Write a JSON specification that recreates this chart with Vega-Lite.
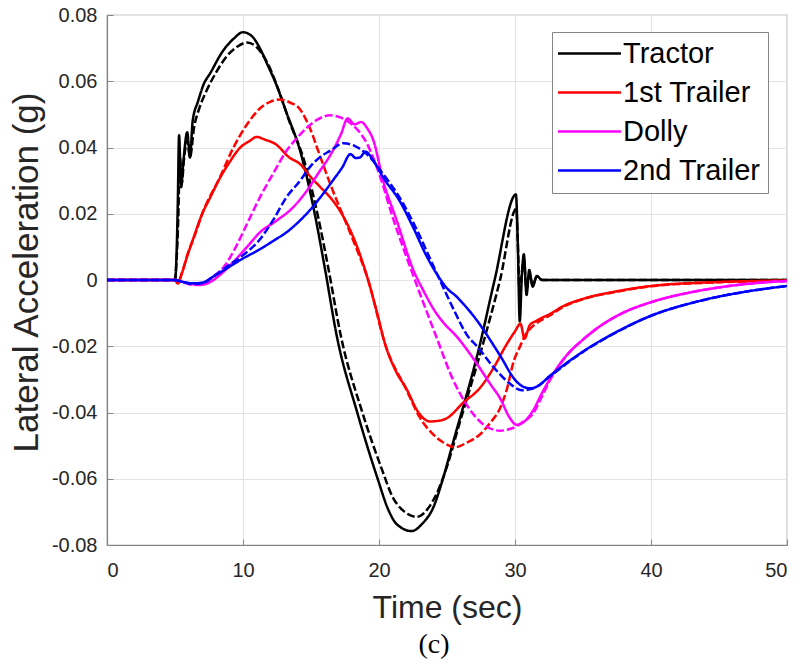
{
"$schema": "https://vega.github.io/schema/vega-lite/v6.json",
"width": 680,
"height": 530,
"autosize": {"type": "none"},
"padding": {"left": 107, "top": 15, "right": 19, "bottom": 122},
"background": "white",
"config": {
 "view": {"stroke": "#858585", "strokeWidth": 1.2},
 "axis": {"domainColor": "#858585", "domainWidth": 1.2, "tickColor": "#858585", "tickSize": -6, "gridColor": "#e3e3e3", "gridWidth": 1, "labelFont": "Liberation Sans", "labelFontSize": 20, "labelColor": "#262626", "titleFont": "Liberation Sans", "titleFontWeight": "normal", "titleColor": "#262626"}
},
"title": {"text": "(c)", "orient": "bottom", "anchor": "middle", "frame": "group", "font": "Liberation Serif", "fontSize": 28, "fontWeight": "normal", "color": "#000000", "offset": 8, "baseline": "top", "dx": -13},
"datasets": {"d": [
{"series":"Tractor","style":"solid","time":0,"acc":0},
{"series":"Tractor","style":"solid","time":5,"acc":0},
{"series":"Tractor","style":"solid","time":5.1,"acc":0.006},
{"series":"Tractor","style":"solid","time":5.2,"acc":0.022},
{"series":"Tractor","style":"solid","time":5.3,"acc":0.0437},
{"series":"Tractor","style":"solid","time":5.45,"acc":0.028},
{"series":"Tractor","style":"solid","time":5.6,"acc":0.035},
{"series":"Tractor","style":"solid","time":5.9,"acc":0.0446},
{"series":"Tractor","style":"solid","time":6.1,"acc":0.037},
{"series":"Tractor","style":"solid","time":6.3,"acc":0.048},
{"series":"Tractor","style":"solid","time":6.7,"acc":0.054},
{"series":"Tractor","style":"solid","time":7.1,"acc":0.059},
{"series":"Tractor","style":"solid","time":7.6,"acc":0.0625},
{"series":"Tractor","style":"solid","time":8.5,"acc":0.069},
{"series":"Tractor","style":"solid","time":9.3,"acc":0.0728},
{"series":"Tractor","style":"solid","time":10,"acc":0.0748},
{"series":"Tractor","style":"solid","time":10.6,"acc":0.0738},
{"series":"Tractor","style":"solid","time":11.3,"acc":0.0695},
{"series":"Tractor","style":"solid","time":11.8,"acc":0.065},
{"series":"Tractor","style":"solid","time":12.4,"acc":0.0595},
{"series":"Tractor","style":"solid","time":13.2,"acc":0.0505},
{"series":"Tractor","style":"solid","time":14.2,"acc":0.039},
{"series":"Tractor","style":"solid","time":15.2,"acc":0.0215},
{"series":"Tractor","style":"solid","time":16.0,"acc":0.004},
{"series":"Tractor","style":"solid","time":16.9,"acc":-0.017},
{"series":"Tractor","style":"solid","time":18.4,"acc":-0.04},
{"series":"Tractor","style":"solid","time":19.9,"acc":-0.06},
{"series":"Tractor","style":"solid","time":20.7,"acc":-0.0695},
{"series":"Tractor","style":"solid","time":21.3,"acc":-0.0737},
{"series":"Tractor","style":"solid","time":22.4,"acc":-0.0758},
{"series":"Tractor","style":"solid","time":23.2,"acc":-0.0735},
{"series":"Tractor","style":"solid","time":24,"acc":-0.0686},
{"series":"Tractor","style":"solid","time":24.7,"acc":-0.06},
{"series":"Tractor","style":"solid","time":25.4,"acc":-0.0497},
{"series":"Tractor","style":"solid","time":27.4,"acc":-0.0198},
{"series":"Tractor","style":"solid","time":28.5,"acc":0},
{"series":"Tractor","style":"solid","time":30.07,"acc":0.0258},
{"series":"Tractor","style":"solid","time":30.2,"acc":0.012},
{"series":"Tractor","style":"solid","time":30.35,"acc":-0.0125},
{"series":"Tractor","style":"solid","time":30.5,"acc":0.001},
{"series":"Tractor","style":"solid","time":30.65,"acc":0.0078},
{"series":"Tractor","style":"solid","time":30.85,"acc":-0.0045},
{"series":"Tractor","style":"solid","time":31.05,"acc":0.003},
{"series":"Tractor","style":"solid","time":31.3,"acc":-0.002},
{"series":"Tractor","style":"solid","time":31.6,"acc":0.0012},
{"series":"Tractor","style":"solid","time":32,"acc":0},
{"series":"Tractor","style":"solid","time":50,"acc":0},
{"series":"Tractor","style":"dashed","time":0,"acc":0},
{"series":"Tractor","style":"dashed","time":5,"acc":0},
{"series":"Tractor","style":"dashed","time":5.1,"acc":0.005},
{"series":"Tractor","style":"dashed","time":5.25,"acc":0.02},
{"series":"Tractor","style":"dashed","time":5.35,"acc":0.038},
{"series":"Tractor","style":"dashed","time":5.5,"acc":0.029},
{"series":"Tractor","style":"dashed","time":5.65,"acc":0.036},
{"series":"Tractor","style":"dashed","time":5.9,"acc":0.042},
{"series":"Tractor","style":"dashed","time":6.1,"acc":0.037},
{"series":"Tractor","style":"dashed","time":6.4,"acc":0.046},
{"series":"Tractor","style":"dashed","time":6.8,"acc":0.052},
{"series":"Tractor","style":"dashed","time":7.3,"acc":0.057},
{"series":"Tractor","style":"dashed","time":8.0,"acc":0.0625},
{"series":"Tractor","style":"dashed","time":8.8,"acc":0.0675},
{"series":"Tractor","style":"dashed","time":9.6,"acc":0.0705},
{"series":"Tractor","style":"dashed","time":10.3,"acc":0.0717},
{"series":"Tractor","style":"dashed","time":11.0,"acc":0.0703},
{"series":"Tractor","style":"dashed","time":11.8,"acc":0.0655},
{"series":"Tractor","style":"dashed","time":12.6,"acc":0.0575},
{"series":"Tractor","style":"dashed","time":13.4,"acc":0.048},
{"series":"Tractor","style":"dashed","time":14.5,"acc":0.036},
{"series":"Tractor","style":"dashed","time":15.5,"acc":0.0195},
{"series":"Tractor","style":"dashed","time":16.3,"acc":0.003},
{"series":"Tractor","style":"dashed","time":17.2,"acc":-0.017},
{"series":"Tractor","style":"dashed","time":18.7,"acc":-0.039},
{"series":"Tractor","style":"dashed","time":20.2,"acc":-0.057},
{"series":"Tractor","style":"dashed","time":21.0,"acc":-0.0655},
{"series":"Tractor","style":"dashed","time":21.8,"acc":-0.0697},
{"series":"Tractor","style":"dashed","time":22.8,"acc":-0.0715},
{"series":"Tractor","style":"dashed","time":23.6,"acc":-0.069},
{"series":"Tractor","style":"dashed","time":24.4,"acc":-0.063},
{"series":"Tractor","style":"dashed","time":25.1,"acc":-0.055},
{"series":"Tractor","style":"dashed","time":25.8,"acc":-0.045},
{"series":"Tractor","style":"dashed","time":27.7,"acc":-0.0185},
{"series":"Tractor","style":"dashed","time":28.9,"acc":0},
{"series":"Tractor","style":"dashed","time":30.1,"acc":0.0215},
{"series":"Tractor","style":"dashed","time":30.2,"acc":0.012},
{"series":"Tractor","style":"dashed","time":30.35,"acc":-0.005},
{"series":"Tractor","style":"dashed","time":30.5,"acc":0.002},
{"series":"Tractor","style":"dashed","time":30.65,"acc":0.0065},
{"series":"Tractor","style":"dashed","time":30.85,"acc":-0.003},
{"series":"Tractor","style":"dashed","time":31.05,"acc":0.002},
{"series":"Tractor","style":"dashed","time":31.3,"acc":-0.0015},
{"series":"Tractor","style":"dashed","time":31.6,"acc":0.001},
{"series":"Tractor","style":"dashed","time":32,"acc":0},
{"series":"Tractor","style":"dashed","time":50,"acc":0},
{"series":"1st Trailer","style":"solid","time":0,"acc":0},
{"series":"1st Trailer","style":"solid","time":5,"acc":0},
{"series":"1st Trailer","style":"solid","time":5.2,"acc":-0.001},
{"series":"1st Trailer","style":"solid","time":5.5,"acc":0.002},
{"series":"1st Trailer","style":"solid","time":5.9,"acc":0.0072},
{"series":"1st Trailer","style":"solid","time":6.3,"acc":0.012},
{"series":"1st Trailer","style":"solid","time":7.0,"acc":0.02},
{"series":"1st Trailer","style":"solid","time":7.6,"acc":0.025},
{"series":"1st Trailer","style":"solid","time":8.2,"acc":0.03},
{"series":"1st Trailer","style":"solid","time":9.0,"acc":0.0355},
{"series":"1st Trailer","style":"solid","time":9.8,"acc":0.04},
{"series":"1st Trailer","style":"solid","time":10.5,"acc":0.042},
{"series":"1st Trailer","style":"solid","time":11.0,"acc":0.0432},
{"series":"1st Trailer","style":"solid","time":11.6,"acc":0.0424},
{"series":"1st Trailer","style":"solid","time":12.4,"acc":0.041},
{"series":"1st Trailer","style":"solid","time":13.4,"acc":0.037},
{"series":"1st Trailer","style":"solid","time":14.2,"acc":0.035},
{"series":"1st Trailer","style":"solid","time":15.0,"acc":0.031},
{"series":"1st Trailer","style":"solid","time":15.7,"acc":0.028},
{"series":"1st Trailer","style":"solid","time":16.6,"acc":0.024},
{"series":"1st Trailer","style":"solid","time":17.4,"acc":0.019},
{"series":"1st Trailer","style":"solid","time":18.3,"acc":0.011},
{"series":"1st Trailer","style":"solid","time":19.2,"acc":0},
{"series":"1st Trailer","style":"solid","time":19.8,"acc":-0.009},
{"series":"1st Trailer","style":"solid","time":20.5,"acc":-0.02},
{"series":"1st Trailer","style":"solid","time":21.3,"acc":-0.028},
{"series":"1st Trailer","style":"solid","time":22.0,"acc":-0.0327},
{"series":"1st Trailer","style":"solid","time":22.9,"acc":-0.04},
{"series":"1st Trailer","style":"solid","time":23.75,"acc":-0.0427},
{"series":"1st Trailer","style":"solid","time":24.4,"acc":-0.0425},
{"series":"1st Trailer","style":"solid","time":25.0,"acc":-0.0417},
{"series":"1st Trailer","style":"solid","time":26.2,"acc":-0.037},
{"series":"1st Trailer","style":"solid","time":27.4,"acc":-0.0327},
{"series":"1st Trailer","style":"solid","time":28.5,"acc":-0.026},
{"series":"1st Trailer","style":"solid","time":29.3,"acc":-0.02},
{"series":"1st Trailer","style":"solid","time":30.0,"acc":-0.0155},
{"series":"1st Trailer","style":"solid","time":30.4,"acc":-0.0132},
{"series":"1st Trailer","style":"solid","time":30.7,"acc":-0.0177},
{"series":"1st Trailer","style":"solid","time":31.1,"acc":-0.0135},
{"series":"1st Trailer","style":"solid","time":31.5,"acc":-0.0125},
{"series":"1st Trailer","style":"solid","time":31.8,"acc":-0.0118},
{"series":"1st Trailer","style":"solid","time":32.6,"acc":-0.0102},
{"series":"1st Trailer","style":"solid","time":33.5,"acc":-0.008},
{"series":"1st Trailer","style":"solid","time":35,"acc":-0.0057},
{"series":"1st Trailer","style":"solid","time":37.5,"acc":-0.0034},
{"series":"1st Trailer","style":"solid","time":40,"acc":-0.0018},
{"series":"1st Trailer","style":"solid","time":45,"acc":-0.0006},
{"series":"1st Trailer","style":"solid","time":50,"acc":-0.0002},
{"series":"1st Trailer","style":"dashed","time":0,"acc":0},
{"series":"1st Trailer","style":"dashed","time":5,"acc":0},
{"series":"1st Trailer","style":"dashed","time":5.2,"acc":-0.001},
{"series":"1st Trailer","style":"dashed","time":5.5,"acc":0.002},
{"series":"1st Trailer","style":"dashed","time":5.9,"acc":0.0075},
{"series":"1st Trailer","style":"dashed","time":6.5,"acc":0.014},
{"series":"1st Trailer","style":"dashed","time":7.0,"acc":0.02},
{"series":"1st Trailer","style":"dashed","time":8.3,"acc":0.031},
{"series":"1st Trailer","style":"dashed","time":9.3,"acc":0.04},
{"series":"1st Trailer","style":"dashed","time":10.3,"acc":0.047},
{"series":"1st Trailer","style":"dashed","time":11.3,"acc":0.052},
{"series":"1st Trailer","style":"dashed","time":12.0,"acc":0.0538},
{"series":"1st Trailer","style":"dashed","time":12.7,"acc":0.0545},
{"series":"1st Trailer","style":"dashed","time":13.5,"acc":0.0535},
{"series":"1st Trailer","style":"dashed","time":14.2,"acc":0.0515},
{"series":"1st Trailer","style":"dashed","time":14.9,"acc":0.046},
{"series":"1st Trailer","style":"dashed","time":15.7,"acc":0.037},
{"series":"1st Trailer","style":"dashed","time":16.6,"acc":0.027},
{"series":"1st Trailer","style":"dashed","time":17.3,"acc":0.02},
{"series":"1st Trailer","style":"dashed","time":18.1,"acc":0.012},
{"series":"1st Trailer","style":"dashed","time":19.2,"acc":0},
{"series":"1st Trailer","style":"dashed","time":20.5,"acc":-0.02},
{"series":"1st Trailer","style":"dashed","time":22.0,"acc":-0.033},
{"series":"1st Trailer","style":"dashed","time":23.0,"acc":-0.0415},
{"series":"1st Trailer","style":"dashed","time":24.0,"acc":-0.0467},
{"series":"1st Trailer","style":"dashed","time":24.7,"acc":-0.049},
{"series":"1st Trailer","style":"dashed","time":25.6,"acc":-0.0505},
{"series":"1st Trailer","style":"dashed","time":26.5,"acc":-0.049},
{"series":"1st Trailer","style":"dashed","time":27.4,"acc":-0.0467},
{"series":"1st Trailer","style":"dashed","time":28.2,"acc":-0.043},
{"series":"1st Trailer","style":"dashed","time":28.9,"acc":-0.0387},
{"series":"1st Trailer","style":"dashed","time":29.4,"acc":-0.033},
{"series":"1st Trailer","style":"dashed","time":29.9,"acc":-0.0246},
{"series":"1st Trailer","style":"dashed","time":30.4,"acc":-0.0198},
{"series":"1st Trailer","style":"dashed","time":30.7,"acc":-0.017},
{"series":"1st Trailer","style":"dashed","time":31.1,"acc":-0.0148},
{"series":"1st Trailer","style":"dashed","time":31.6,"acc":-0.013},
{"series":"1st Trailer","style":"dashed","time":32.6,"acc":-0.0106},
{"series":"1st Trailer","style":"dashed","time":33.5,"acc":-0.0082},
{"series":"1st Trailer","style":"dashed","time":35,"acc":-0.0058},
{"series":"1st Trailer","style":"dashed","time":37.5,"acc":-0.0035},
{"series":"1st Trailer","style":"dashed","time":40,"acc":-0.0019},
{"series":"1st Trailer","style":"dashed","time":45,"acc":-0.0007},
{"series":"1st Trailer","style":"dashed","time":50,"acc":-0.0002},
{"series":"Dolly","style":"solid","time":0,"acc":0},
{"series":"Dolly","style":"solid","time":5,"acc":0},
{"series":"Dolly","style":"solid","time":5.5,"acc":-0.0005},
{"series":"Dolly","style":"solid","time":6.2,"acc":-0.0012},
{"series":"Dolly","style":"solid","time":6.8,"acc":-0.0015},
{"series":"Dolly","style":"solid","time":7.5,"acc":-0.0008},
{"series":"Dolly","style":"solid","time":8.3,"acc":0.0015},
{"series":"Dolly","style":"solid","time":9.3,"acc":0.0055},
{"series":"Dolly","style":"solid","time":10.3,"acc":0.01},
{"series":"Dolly","style":"solid","time":11.25,"acc":0.0144},
{"series":"Dolly","style":"solid","time":12.5,"acc":0.018},
{"series":"Dolly","style":"solid","time":13.7,"acc":0.022},
{"series":"Dolly","style":"solid","time":14.7,"acc":0.027},
{"series":"Dolly","style":"solid","time":15.5,"acc":0.032},
{"series":"Dolly","style":"solid","time":16.6,"acc":0.039},
{"series":"Dolly","style":"solid","time":17.2,"acc":0.044},
{"series":"Dolly","style":"solid","time":17.7,"acc":0.0488},
{"series":"Dolly","style":"solid","time":18.2,"acc":0.047},
{"series":"Dolly","style":"solid","time":18.7,"acc":0.0477},
{"series":"Dolly","style":"solid","time":19.1,"acc":0.046},
{"series":"Dolly","style":"solid","time":19.6,"acc":0.042},
{"series":"Dolly","style":"solid","time":20.3,"acc":0.03},
{"series":"Dolly","style":"solid","time":21.3,"acc":0.018},
{"series":"Dolly","style":"solid","time":22.5,"acc":0.0033},
{"series":"Dolly","style":"solid","time":23.3,"acc":-0.0035},
{"series":"Dolly","style":"solid","time":24.0,"acc":-0.0087},
{"series":"Dolly","style":"solid","time":24.7,"acc":-0.0127},
{"series":"Dolly","style":"solid","time":25.7,"acc":-0.017},
{"series":"Dolly","style":"solid","time":26.9,"acc":-0.0235},
{"series":"Dolly","style":"solid","time":28.2,"acc":-0.0315},
{"series":"Dolly","style":"solid","time":28.9,"acc":-0.0357},
{"series":"Dolly","style":"solid","time":29.6,"acc":-0.0415},
{"series":"Dolly","style":"solid","time":30.1,"acc":-0.0437},
{"series":"Dolly","style":"solid","time":30.6,"acc":-0.043},
{"series":"Dolly","style":"solid","time":31.3,"acc":-0.0396},
{"series":"Dolly","style":"solid","time":32.0,"acc":-0.034},
{"series":"Dolly","style":"solid","time":32.6,"acc":-0.0297},
{"series":"Dolly","style":"solid","time":33.8,"acc":-0.0227},
{"series":"Dolly","style":"solid","time":35,"acc":-0.018},
{"series":"Dolly","style":"solid","time":36.3,"acc":-0.0138},
{"series":"Dolly","style":"solid","time":38,"acc":-0.0098},
{"series":"Dolly","style":"solid","time":40,"acc":-0.0067},
{"series":"Dolly","style":"solid","time":43.6,"acc":-0.0032},
{"series":"Dolly","style":"solid","time":47,"acc":-0.0012},
{"series":"Dolly","style":"solid","time":50,"acc":-0.0003},
{"series":"Dolly","style":"dashed","time":0,"acc":0},
{"series":"Dolly","style":"dashed","time":5,"acc":0},
{"series":"Dolly","style":"dashed","time":5.5,"acc":-0.0005},
{"series":"Dolly","style":"dashed","time":6.3,"acc":-0.0015},
{"series":"Dolly","style":"dashed","time":7.0,"acc":-0.0012},
{"series":"Dolly","style":"dashed","time":7.8,"acc":0.001},
{"series":"Dolly","style":"dashed","time":8.6,"acc":0.004},
{"series":"Dolly","style":"dashed","time":9.5,"acc":0.0102},
{"series":"Dolly","style":"dashed","time":10.3,"acc":0.017},
{"series":"Dolly","style":"dashed","time":11.25,"acc":0.025},
{"series":"Dolly","style":"dashed","time":12.2,"acc":0.032},
{"series":"Dolly","style":"dashed","time":13.2,"acc":0.039},
{"series":"Dolly","style":"dashed","time":14.0,"acc":0.043},
{"series":"Dolly","style":"dashed","time":14.7,"acc":0.046},
{"series":"Dolly","style":"dashed","time":15.5,"acc":0.0485},
{"series":"Dolly","style":"dashed","time":16.4,"acc":0.0497},
{"series":"Dolly","style":"dashed","time":17.2,"acc":0.049},
{"series":"Dolly","style":"dashed","time":18.0,"acc":0.047},
{"series":"Dolly","style":"dashed","time":19.1,"acc":0.0413},
{"series":"Dolly","style":"dashed","time":20.1,"acc":0.031},
{"series":"Dolly","style":"dashed","time":21.0,"acc":0.019},
{"series":"Dolly","style":"dashed","time":22.0,"acc":0.0072},
{"series":"Dolly","style":"dashed","time":23.0,"acc":-0.004},
{"series":"Dolly","style":"dashed","time":24.2,"acc":-0.017},
{"series":"Dolly","style":"dashed","time":25.4,"acc":-0.0297},
{"series":"Dolly","style":"dashed","time":26.5,"acc":-0.038},
{"series":"Dolly","style":"dashed","time":27.7,"acc":-0.0437},
{"series":"Dolly","style":"dashed","time":28.9,"acc":-0.0455},
{"series":"Dolly","style":"dashed","time":29.6,"acc":-0.045},
{"series":"Dolly","style":"dashed","time":30.1,"acc":-0.0442},
{"series":"Dolly","style":"dashed","time":30.6,"acc":-0.0428},
{"series":"Dolly","style":"dashed","time":31.3,"acc":-0.0405},
{"series":"Dolly","style":"dashed","time":32.0,"acc":-0.035},
{"series":"Dolly","style":"dashed","time":32.6,"acc":-0.03},
{"series":"Dolly","style":"dashed","time":33.8,"acc":-0.0228},
{"series":"Dolly","style":"dashed","time":35,"acc":-0.018},
{"series":"Dolly","style":"dashed","time":36.3,"acc":-0.0138},
{"series":"Dolly","style":"dashed","time":38,"acc":-0.0098},
{"series":"Dolly","style":"dashed","time":40,"acc":-0.0067},
{"series":"Dolly","style":"dashed","time":43.6,"acc":-0.0032},
{"series":"Dolly","style":"dashed","time":47,"acc":-0.0012},
{"series":"Dolly","style":"dashed","time":50,"acc":-0.0003},
{"series":"2nd Trailer","style":"solid","time":0,"acc":0},
{"series":"2nd Trailer","style":"solid","time":5,"acc":0},
{"series":"2nd Trailer","style":"solid","time":5.5,"acc":-0.0005},
{"series":"2nd Trailer","style":"solid","time":6.3,"acc":-0.001},
{"series":"2nd Trailer","style":"solid","time":7.0,"acc":-0.0008},
{"series":"2nd Trailer","style":"solid","time":7.8,"acc":0.001},
{"series":"2nd Trailer","style":"solid","time":8.8,"acc":0.0035},
{"series":"2nd Trailer","style":"solid","time":10,"acc":0.0065},
{"series":"2nd Trailer","style":"solid","time":11.25,"acc":0.0093},
{"series":"2nd Trailer","style":"solid","time":12.3,"acc":0.012},
{"series":"2nd Trailer","style":"solid","time":13.2,"acc":0.0144},
{"series":"2nd Trailer","style":"solid","time":14.2,"acc":0.018},
{"series":"2nd Trailer","style":"solid","time":14.9,"acc":0.021},
{"series":"2nd Trailer","style":"solid","time":15.7,"acc":0.025},
{"series":"2nd Trailer","style":"solid","time":16.6,"acc":0.03},
{"series":"2nd Trailer","style":"solid","time":17.3,"acc":0.034},
{"series":"2nd Trailer","style":"solid","time":17.9,"acc":0.038},
{"series":"2nd Trailer","style":"solid","time":18.3,"acc":0.0368},
{"series":"2nd Trailer","style":"solid","time":18.6,"acc":0.037},
{"series":"2nd Trailer","style":"solid","time":19.0,"acc":0.0387},
{"series":"2nd Trailer","style":"solid","time":19.6,"acc":0.036},
{"series":"2nd Trailer","style":"solid","time":20.3,"acc":0.031},
{"series":"2nd Trailer","style":"solid","time":21.5,"acc":0.024},
{"series":"2nd Trailer","style":"solid","time":22.5,"acc":0.016},
{"series":"2nd Trailer","style":"solid","time":23.5,"acc":0.0072},
{"series":"2nd Trailer","style":"solid","time":24.3,"acc":0.0015},
{"series":"2nd Trailer","style":"solid","time":25.0,"acc":-0.0025},
{"series":"2nd Trailer","style":"solid","time":25.7,"acc":-0.005},
{"series":"2nd Trailer","style":"solid","time":26.2,"acc":-0.0072},
{"series":"2nd Trailer","style":"solid","time":27.2,"acc":-0.0122},
{"series":"2nd Trailer","style":"solid","time":28.0,"acc":-0.017},
{"series":"2nd Trailer","style":"solid","time":28.9,"acc":-0.0228},
{"series":"2nd Trailer","style":"solid","time":30.1,"acc":-0.0306},
{"series":"2nd Trailer","style":"solid","time":30.6,"acc":-0.0322},
{"series":"2nd Trailer","style":"solid","time":31.1,"acc":-0.0327},
{"series":"2nd Trailer","style":"solid","time":31.6,"acc":-0.0322},
{"series":"2nd Trailer","style":"solid","time":32.6,"acc":-0.0288},
{"series":"2nd Trailer","style":"solid","time":35,"acc":-0.0216},
{"series":"2nd Trailer","style":"solid","time":37.5,"acc":-0.0156},
{"series":"2nd Trailer","style":"solid","time":40,"acc":-0.0108},
{"series":"2nd Trailer","style":"solid","time":43.6,"acc":-0.0063},
{"series":"2nd Trailer","style":"solid","time":47,"acc":-0.0035},
{"series":"2nd Trailer","style":"solid","time":50,"acc":-0.0018},
{"series":"2nd Trailer","style":"dashed","time":0,"acc":0},
{"series":"2nd Trailer","style":"dashed","time":5,"acc":0},
{"series":"2nd Trailer","style":"dashed","time":5.5,"acc":-0.0005},
{"series":"2nd Trailer","style":"dashed","time":6.3,"acc":-0.0012},
{"series":"2nd Trailer","style":"dashed","time":7.0,"acc":-0.001},
{"series":"2nd Trailer","style":"dashed","time":7.8,"acc":0.001},
{"series":"2nd Trailer","style":"dashed","time":8.8,"acc":0.004},
{"series":"2nd Trailer","style":"dashed","time":10,"acc":0.0075},
{"series":"2nd Trailer","style":"dashed","time":11.25,"acc":0.0123},
{"series":"2nd Trailer","style":"dashed","time":12.2,"acc":0.018},
{"series":"2nd Trailer","style":"dashed","time":13.2,"acc":0.025},
{"series":"2nd Trailer","style":"dashed","time":14.2,"acc":0.03},
{"series":"2nd Trailer","style":"dashed","time":14.9,"acc":0.034},
{"series":"2nd Trailer","style":"dashed","time":15.7,"acc":0.0372},
{"series":"2nd Trailer","style":"dashed","time":16.4,"acc":0.039},
{"series":"2nd Trailer","style":"dashed","time":17.4,"acc":0.0413},
{"series":"2nd Trailer","style":"dashed","time":18.2,"acc":0.0405},
{"series":"2nd Trailer","style":"dashed","time":19.1,"acc":0.038},
{"series":"2nd Trailer","style":"dashed","time":20.3,"acc":0.032},
{"series":"2nd Trailer","style":"dashed","time":21.5,"acc":0.025},
{"series":"2nd Trailer","style":"dashed","time":22.8,"acc":0.015},
{"series":"2nd Trailer","style":"dashed","time":24.0,"acc":0.0042},
{"series":"2nd Trailer","style":"dashed","time":24.7,"acc":-0.002},
{"series":"2nd Trailer","style":"dashed","time":25.5,"acc":-0.009},
{"series":"2nd Trailer","style":"dashed","time":26.5,"acc":-0.0168},
{"series":"2nd Trailer","style":"dashed","time":27.2,"acc":-0.02},
{"series":"2nd Trailer","style":"dashed","time":28.4,"acc":-0.0262},
{"series":"2nd Trailer","style":"dashed","time":29.6,"acc":-0.0312},
{"series":"2nd Trailer","style":"dashed","time":30.5,"acc":-0.0333},
{"series":"2nd Trailer","style":"dashed","time":31.1,"acc":-0.033},
{"series":"2nd Trailer","style":"dashed","time":31.6,"acc":-0.0322},
{"series":"2nd Trailer","style":"dashed","time":32.6,"acc":-0.029},
{"series":"2nd Trailer","style":"dashed","time":35,"acc":-0.0217},
{"series":"2nd Trailer","style":"dashed","time":37.5,"acc":-0.0157},
{"series":"2nd Trailer","style":"dashed","time":40,"acc":-0.0108},
{"series":"2nd Trailer","style":"dashed","time":43.6,"acc":-0.0063},
{"series":"2nd Trailer","style":"dashed","time":47,"acc":-0.0035},
{"series":"2nd Trailer","style":"dashed","time":50,"acc":-0.0018}
]},
"data": {"name": "d"},
"mark": {"type": "line", "interpolate": "monotone", "strokeWidth": 2.5},
"encoding": {
 "x": {"field": "time", "type": "quantitative", "scale": {"domain": [0, 50], "nice": false},
  "axis": {"values": [0, 10, 20, 30, 40, 50], "title": "Time (sec)", "titleFontSize": 32, "labelPadding": 21, "titleX": 340, "titleY": 72, "titleBaseline": "alphabetic", "titleAlign": "center"}},
 "y": {"field": "acc", "type": "quantitative", "scale": {"domain": [-0.08, 0.08], "nice": false, "zero": false},
  "axis": {"values": [-0.08, -0.06, -0.04, -0.02, 0, 0.02, 0.04, 0.06, 0.08], "title": "Lateral Acceleration (g)", "titleFontSize": 35, "labelPadding": 16,
   "labelExpr": "abs(datum.value) < 1e-9 ? '0' : (datum.value < 0 ? '-' + format(-datum.value, '.2f') : format(datum.value, '.2f'))",
   "titleX": -70, "titleY": 257, "titleAngle": 270, "titleBaseline": "alphabetic", "titleAlign": "center"}},
 "color": {"field": "series", "type": "nominal",
  "scale": {"domain": ["Tractor", "1st Trailer", "Dolly", "2nd Trailer"], "range": ["#000000", "#ff0000", "#ff00ff", "#0000ff"]},
  "legend": {"orient": "none", "legendX": 445, "legendY": 17, "title": null, "padding": 7, "strokeColor": "#858585", "fillColor": "white",
   "labelFont": "Liberation Sans", "labelFontSize": 29, "labelColor": "#000000", "symbolType": "M-3,0H3", "symbolSize": 441, "symbolOffset": 16, "labelOffset": 19, "symbolStrokeWidth": 2.5, "rowPadding": 9}},
 "strokeDash": {"field": "style", "type": "nominal", "scale": {"domain": ["solid", "dashed"], "range": [[1, 0], [8, 3]]}, "legend": null}
}
}
